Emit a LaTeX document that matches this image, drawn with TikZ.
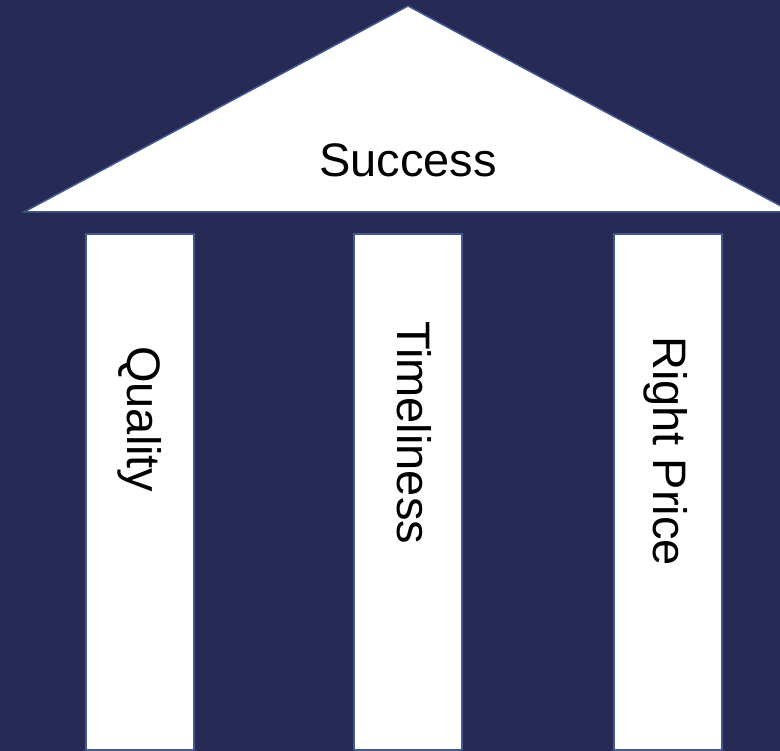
\documentclass[tikz,border=0pt]{standalone}
\usepackage{fontspec}
\setmainfont{Liberation Sans}
\definecolor{navy}{HTML}{262A54}
\definecolor{rim}{HTML}{41598F}
\tikzset{
  pillar/.style={draw=rim, line width=1.5pt, fill=white},
  bigtext/.style={font=\fontsize{47}{56}\selectfont, inner sep=0pt}
}

\begin{document}
\begin{tikzpicture}[x=1pt,y=-1pt]

\fill[navy] (0,0) rectangle (780,751);
\useasboundingbox (0,0) rectangle (780,751);
\clip (0,0) rectangle (780,751);

\draw[pillar] (24,212) -- (408,6) -- (792,212) -- cycle;
\node[bigtext, anchor=base] (success) at (408,177) {Success};

\draw[pillar] (86,234) rectangle (194,750);
\draw[pillar] (354,234) rectangle (462,750);
\draw[pillar] (614,234) rectangle (722,750);

\node[bigtext, rotate=-90, anchor=base west] (quality) at (127,346) {Quality};
\node[bigtext, rotate=-90, anchor=base west] (timeliness) at (397,321) {Timeliness};
\node[bigtext, rotate=-90, anchor=base west] (rightprice) at (653,336) {Right Price};

\end{tikzpicture}
\end{document}
